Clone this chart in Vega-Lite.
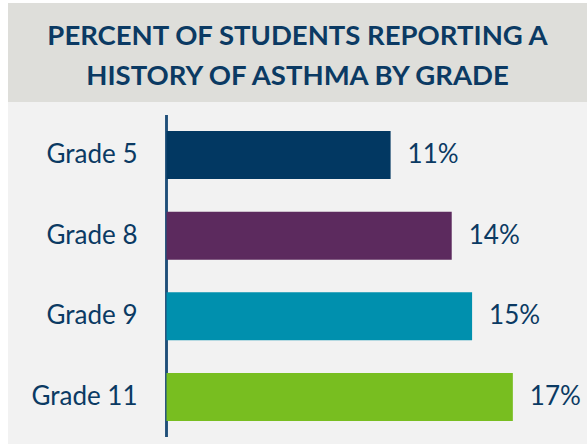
{
  "$schema": "https://vega.github.io/schema/vega-lite/v6.json",
  "background": "white",
  "padding": {"left": 8, "top": 3, "right": 0, "bottom": 0},
  "spacing": 0,
  "bounds": "flush",
  "config": {"view": {"stroke": null}, "font": "Lato"},
  "datasets": {
    "title": [{"t": ["PERCENT OF STUDENTS REPORTING A", "HISTORY OF ASTHMA BY GRADE"]}],
    "grades": [
      {"grade": "Grade 5", "value": 11},
      {"grade": "Grade 8", "value": 14},
      {"grade": "Grade 9", "value": 15},
      {"grade": "Grade 11", "value": 17}
    ]
  },
  "vconcat": [
    {
      "width": 579,
      "height": 99,
      "view": {"fill": "#dededa", "stroke": null},
      "data": {"name": "title"},
      "mark": {"type": "text", "fontSize": 27.5, "fontWeight": "bold", "color": "#0b3a63", "lineHeight": 40, "align": "center", "baseline": "middle"},
      "encoding": {
        "text": {"field": "t"},
        "x": {"datum": 0.5, "type": "quantitative", "scale": {"domain": [0, 1]}, "axis": null},
        "y": {"datum": 0.66, "type": "quantitative", "scale": {"domain": [0, 1]}, "axis": null}
      }
    },
    {
      "width": 579,
      "height": 342,
      "view": {"fill": "#f2f2f2", "stroke": null},
      "data": {"name": "grades"},
      "encoding": {
        "y": {"field": "grade", "type": "nominal", "axis": null,
              "scale": {"domain": ["Grade 5", "Grade 8", "Grade 9", "Grade 11"], "paddingInner": 0.405, "paddingOuter": 0.322, "align": 0.558}}
      },
      "layer": [
        {
          "mark": {"type": "rule", "color": "#1f4e79", "strokeWidth": 2},
          "encoding": {
            "x": {"datum": 0, "type": "quantitative", "scale": {"domain": [-7.78, 20.64], "nice": false, "zero": false}, "axis": null},
            "y": {"datum": "Grade 5", "type": "nominal", "bandPosition": -0.333},
            "y2": {"datum": "Grade 11", "bandPosition": 1.333}
          }
        },
        {
          "mark": {"type": "bar"},
          "encoding": {
            "x": {"field": "value", "type": "quantitative", "axis": null},
            "x2": {"datum": 0},
            "color": {"field": "grade", "type": "nominal", "legend": null,
                      "scale": {"domain": ["Grade 5", "Grade 8", "Grade 9", "Grade 11"], "range": ["#023862", "#5c2a5e", "#0090ae", "#78be20"]}}
          }
        },
        {
          "mark": {"type": "text", "align": "right", "baseline": "middle", "dx": -29, "fontSize": 26, "color": "#0b3a63"},
          "encoding": {
            "x": {"datum": 0, "type": "quantitative"},
            "text": {"field": "grade"}
          }
        },
        {
          "mark": {"type": "text", "align": "left", "baseline": "middle", "dx": 17, "fontSize": 26, "color": "#0b3a63", "text": {"expr": "datum.value + '%'"}},
          "encoding": {
            "x": {"field": "value", "type": "quantitative"}
          }
        }
      ]
    }
  ]
}
